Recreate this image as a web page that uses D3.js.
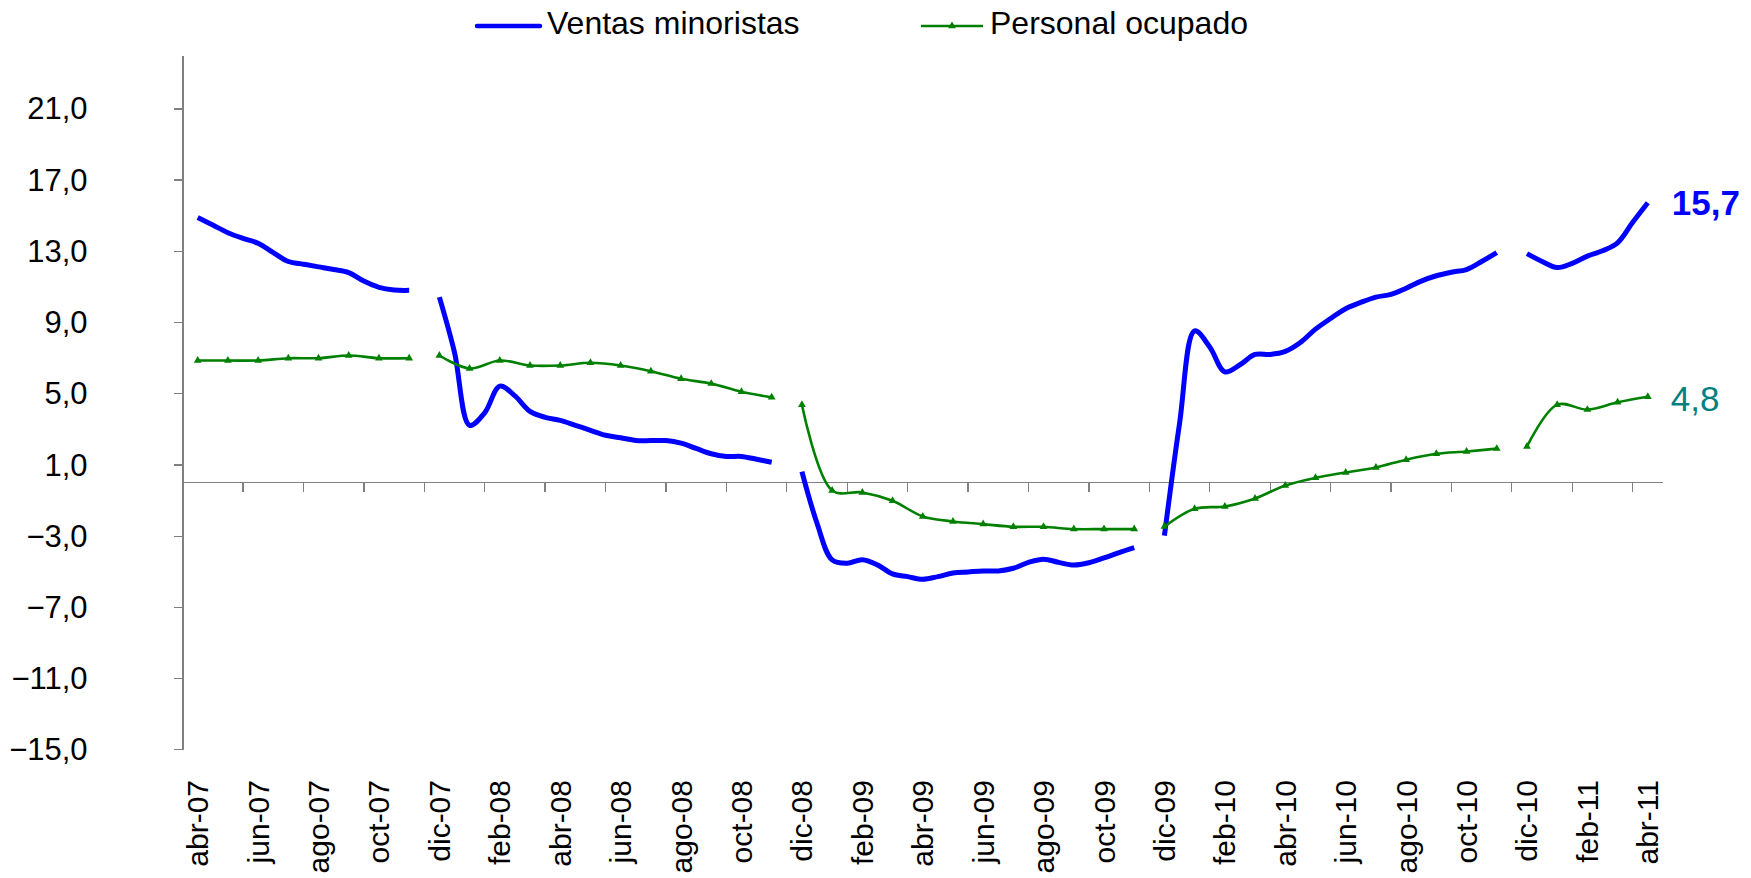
<!DOCTYPE html>
<html>
<head>
  <meta charset="UTF-8">
  <style>
    body { margin: 0; background: white; }
    svg text { font-family: "Liberation Sans", Arial, sans-serif; }
    .axis path, .axis line { stroke: #808080; stroke-width: 1.3; shape-rendering: crispEdges; }
    .axis text { fill: black; font-size: 31px; }
    .xlabel { font-size: 30px; fill: black; }
    .legend text { font-size: 32px; fill: black; }
  </style>
</head>
<body>

<div id="chart"></div>

<script src="https://d3js.org/d3.v7.min.js"></script>
<script>

// monthly categories (category axis)
let months = [
  "abr-07","may-07","jun-07","jul-07","ago-07","sep-07","oct-07","nov-07",
  "dic-07","ene-08","feb-08","mar-08","abr-08","may-08","jun-08","jul-08","ago-08","sep-08","oct-08","nov-08",
  "dic-08","ene-09","feb-09","mar-09","abr-09","may-09","jun-09","jul-09","ago-09","sep-09","oct-09","nov-09",
  "dic-09","ene-10","feb-10","mar-10","abr-10","may-10","jun-10","jul-10","ago-10","sep-10","oct-10","nov-10",
  "dic-10","ene-11","feb-11","mar-11","abr-11"
];

// Personal ocupado, one value per month
let personal = [
  6.84, 6.84, 6.84, 6.97, 6.97, 7.12, 6.97, 6.97,
  7.12, 6.39, 6.84, 6.56, 6.56, 6.71, 6.56, 6.24, 5.81, 5.54, 5.08, 4.77,
  4.36, -0.46, -0.57, -1.04, -1.92, -2.2, -2.35, -2.5, -2.5, -2.63, -2.63, -2.63,
  -2.49, -1.49, -1.36, -0.91, -0.18, 0.25, 0.55, 0.83, 1.27, 1.6, 1.73, 1.89,
  2.01, 4.36, 4.08, 4.49, 4.8
];

// Ventas minoristas, every half month (null = break between nov and dic)
let ventas = [
  14.87, 14.45, 14.02, 13.7, 13.42, 12.9, 12.4, 12.25, 12.1, 11.95, 11.78, 11.3, 10.95, 10.8, 10.78,
  null,
  10.4, 7.3, 3.2, 3.9, 5.4, 4.85, 3.98, 3.65, 3.48, 3.2, 2.92, 2.64, 2.5, 2.35, 2.34, 2.34, 2.2, 1.9, 1.6, 1.45, 1.45, 1.29, 1.12,
  null,
  0.6, -2.3, -4.36, -4.55, -4.35, -4.64, -5.15, -5.3, -5.45, -5.3, -5.1, -5.04, -4.98, -4.98, -4.83, -4.5, -4.32, -4.5, -4.65, -4.52, -4.25, -3.95, -3.67,
  null,
  -3.0, 3.3, 8.5, 7.6, 6.2, 6.6, 7.18, 7.18, 7.35, 7.85, 8.6, 9.2, 9.75, 10.1, 10.4, 10.55, 10.9, 11.3, 11.6, 11.8, 11.95, 12.4, 12.9,
  null,
  12.84, 12.4, 12.06, 12.3, 12.7, 13.0, 13.45, 14.6, 15.7
];

// series restart at these month indexes (each dic)
let restarts = [8, 20, 32, 44];

let yTicks = [-15, -11, -7, -3, 1, 5, 9, 13, 17, 21];

let width = 1751, height = 878;

let svg = d3.select("#chart")
  .append("svg")
  .attr("width", width)
  .attr("height", height);

let x = d3.scaleLinear().domain([-0.5, months.length - 0.5]).range([182.6, 1662.9]);
let y = d3.scaleLinear().domain([-15, 24]).range([749.3, 55]);

let es = d3.formatLocale({decimal: ",", thousands: ".", grouping: [3], currency: ["", ""]});
let fmt = es.format(".1f");

// y axis
svg.append("g")
  .attr("class", "axis")
  .attr("transform", "translate(" + x(-0.5) + ",0)")
  .call(d3.axisLeft(y).tickValues(yTicks).tickSize(9).tickSizeOuter(0).tickPadding(86).tickFormat(fmt))
  .selectAll("text").attr("dy", "0.34em");

// zero line + category ticks
let xg = svg.append("g").attr("class", "axis");
xg.append("line")
  .attr("x1", x(-0.5)).attr("x2", x(months.length - 0.5))
  .attr("y1", y(0)).attr("y2", y(0));
xg.selectAll(".tk")
  .data(d3.range(-0.5, months.length - 1, 2))
  .enter()
  .append("line")
  .attr("x1", d => x(d)).attr("x2", d => x(d))
  .attr("y1", y(0)).attr("y2", y(0) + 10);

// category labels, every second month
svg.append("g")
  .selectAll("text")
  .data(months.filter((m, i) => i % 2 == 0))
  .enter()
  .append("text")
  .attr("class", "xlabel")
  .attr("transform", (d, i) => "translate(" + x(i * 2) + ",780) rotate(-90)")
  .attr("text-anchor", "end")
  .attr("dy", "0.35em")
  .text(d => d);

// ventas line
let ventasLine = d3.line()
  .defined(d => d != null)
  .x((d, k) => x(k / 2))
  .y(d => y(d))
  .curve(d3.curveCatmullRom.alpha(0.5));

svg.append("path")
  .datum(ventas)
  .attr("fill", "none")
  .attr("stroke", "#0000FF")
  .attr("stroke-width", 5)
  .attr("stroke-linejoin", "round")
  .attr("d", ventasLine);

// personal line, split into yearly segments
let bounds = [0].concat(restarts, [months.length]);
let segments = [];
for (let s = 0; s < bounds.length - 1; s++) {
  segments.push(d3.range(bounds[s], bounds[s + 1]).map(i => ({i: i, v: personal[i]})));
}

let personalLine = d3.line()
  .x(d => x(d.i))
  .y(d => y(d.v))
  .curve(d3.curveCatmullRom.alpha(0.5));

svg.append("g")
  .selectAll("path")
  .data(segments)
  .enter()
  .append("path")
  .attr("fill", "none")
  .attr("stroke", "#008000")
  .attr("stroke-width", 2.6)
  .attr("d", personalLine);

let tri = d3.symbol().type(d3.symbolTriangle).size(26);

svg.append("g")
  .selectAll("path")
  .data(personal)
  .enter()
  .append("path")
  .attr("d", tri)
  .attr("fill", "#008000")
  .attr("transform", (d, i) => "translate(" + x(i) + "," + y(d) + ")");

// last values
let last = months.length - 1;
svg.append("text")
  .attr("x", x(last) + 24)
  .attr("y", y(ventas[ventas.length - 1]) + 12)
  .attr("fill", "#0000FF")
  .attr("font-size", "35px")
  .attr("font-weight", "bold")
  .text(fmt(ventas[ventas.length - 1]));

svg.append("text")
  .attr("x", x(last) + 23)
  .attr("y", y(personal[last]) + 14)
  .attr("fill", "#008080")
  .attr("font-size", "35px")
  .text(fmt(personal[last]));

// legend
let legend = svg.append("g").attr("class", "legend");
legend.append("line")
  .attr("x1", 477).attr("x2", 540).attr("y1", 26).attr("y2", 26)
  .attr("stroke", "#0000FF").attr("stroke-width", 4.5).attr("stroke-linecap", "round");
legend.append("text").attr("x", 547).attr("y", 33.5).text("Ventas minoristas");

legend.append("line")
  .attr("x1", 921).attr("x2", 983).attr("y1", 26).attr("y2", 26)
  .attr("stroke", "#008000").attr("stroke-width", 2.6);
legend.append("path")
  .attr("d", tri)
  .attr("fill", "#008000")
  .attr("transform", "translate(952,26)");
legend.append("text").attr("x", 990).attr("y", 33.5).text("Personal ocupado");

</script>

</body>
</html>
